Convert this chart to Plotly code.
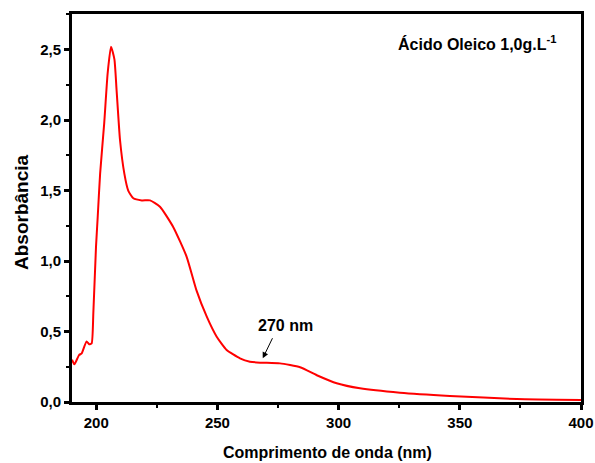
import plotly.graph_objects as go

wavelength_nm = [190, 191, 192.9, 194, 196, 197.1, 198.1, 198.8, 199.9, 200.6, 201.6, 203.3,
                 204.7, 206.1, 207.5, 208.4, 209.8, 211.6, 213.2, 215.3, 218.8, 222.2, 226.3,
                 231.8, 237.3, 241.4, 245.6, 249.7, 253.8, 259.3, 263.4, 267.6, 275.8, 284.1,
                 291, 299.2, 308.8, 325.3, 345.9, 373.5, 400]
absorbance = [0.30, 0.267, 0.333, 0.345, 0.43, 0.41, 0.415, 0.63, 1.10, 1.31, 1.62, 1.98,
              2.33, 2.52, 2.43, 2.21, 1.86, 1.62, 1.50, 1.445, 1.43, 1.43, 1.385,
              1.24, 1.03, 0.79, 0.605, 0.463, 0.369, 0.31, 0.286, 0.279, 0.274, 0.246,
              0.19, 0.133, 0.097, 0.066, 0.043, 0.021, 0.014]

x_ticks = [200, 250, 300, 350, 400]
y_ticks = [0.0, 0.5, 1.0, 1.5, 2.0, 2.5]
y_ticktext = ["0,0", "0,5", "1,0", "1,5", "2,0", "2,5"]

x_title = "Comprimento de onda (nm)"
y_title = "Absorbância"
title_text = "Ácido Oleico 1,0g.L<sup>-1</sup>"
peak_label = "270 nm"
peak_point = (268.7, 0.31)
label_tail = (273.0, 0.463)
label_pos = (277.9, 0.546)

font_main = "Liberation Sans, Arial, sans-serif"

fig = go.Figure()
fig.add_trace(go.Scatter(x=wavelength_nm, y=absorbance, mode="lines",
                         line=dict(color="#ff0000", width=2, shape="spline", smoothing=0.5),
                         showlegend=False, hoverinfo="skip"))

axis_common = dict(showgrid=False, zeroline=False, showline=True, linecolor="black",
                   linewidth=3, mirror=True, ticks="outside", ticklen=5, tickwidth=2.5,
                   tickcolor="black", automargin=False,
                   tickfont=dict(family=font_main, size=15, color="black", weight="bold"))

fig.update_xaxes(range=[190, 400], tickvals=x_ticks,
                 minor=dict(ticks="outside", ticklen=3, tickwidth=2, tickcolor="black", dtick=25, tick0=0),
                 **axis_common)
fig.update_yaxes(range=[0, 2.752], tickvals=y_ticks, ticktext=y_ticktext,
                 minor=dict(ticks="outside", ticklen=3, tickwidth=2, tickcolor="black", dtick=0.25, tick0=0),
                 **axis_common)

W, H = 595, 463
L, R, T, B = 72, 581, 14, 402   # plot area in page pixels
def px(xp): return (xp - L) / (R - L)
def py(yp): return (B - yp) / (B - T)

# frame edges (slightly outside so the full width shows)
hx = 1.5 / (R - L)
hy = 1.5 / (B - T)
frame = [(-hx, -hy, -hx, 1 + hy), (-hx, -hy, 1 + hx, -hy),
         (-hx, 1 + hy, 1 + hx, 1 + hy), (1 + hx, -hy, 1 + hx, 1 + hy)]
for (x0, y0, x1, y1) in frame:
    fig.add_shape(type="line", xref="paper", yref="paper", x0=x0, y0=y0, x1=x1, y1=y1,
                  line=dict(color="black", width=3), layer="above")

fig.add_annotation(x=peak_point[0], y=peak_point[1], ax=label_tail[0], ay=label_tail[1],
                   xref="x", yref="y", axref="x", ayref="y", text="", showarrow=True,
                   arrowhead=2, arrowsize=1.2, arrowwidth=1, arrowcolor="black")
fig.add_annotation(x=label_pos[0], y=label_pos[1], xref="x", yref="y", text=peak_label,
                   showarrow=False, font=dict(family=font_main, size=16, color="black", weight="bold"))

fig.add_annotation(x=px(558), y=py(43), xref="paper", yref="paper", text=title_text,
                   showarrow=False, xanchor="right", yanchor="middle",
                   font=dict(family=font_main, size=16, color="black", weight="bold"))
fig.add_annotation(x=px(327), y=py(452), xref="paper", yref="paper", text=x_title,
                   showarrow=False, xanchor="center", yanchor="middle",
                   font=dict(family=font_main, size=16, color="black", weight="bold"))
fig.add_annotation(x=px(21), y=py(212), xref="paper", yref="paper", text=y_title,
                   showarrow=False, xanchor="center", yanchor="middle", textangle=-90,
                   font=dict(family=font_main, size=19, color="black", weight="bold"))

fig.update_layout(width=W, height=H,
                  margin=dict(l=L, r=W - R, t=T, b=H - B),
                  plot_bgcolor="white", paper_bgcolor="white")

fig.write_html("out.html", config={"displayModeBar": False},
               post_script="document.body.style.margin='0';document.body.style.overflow='hidden';")
